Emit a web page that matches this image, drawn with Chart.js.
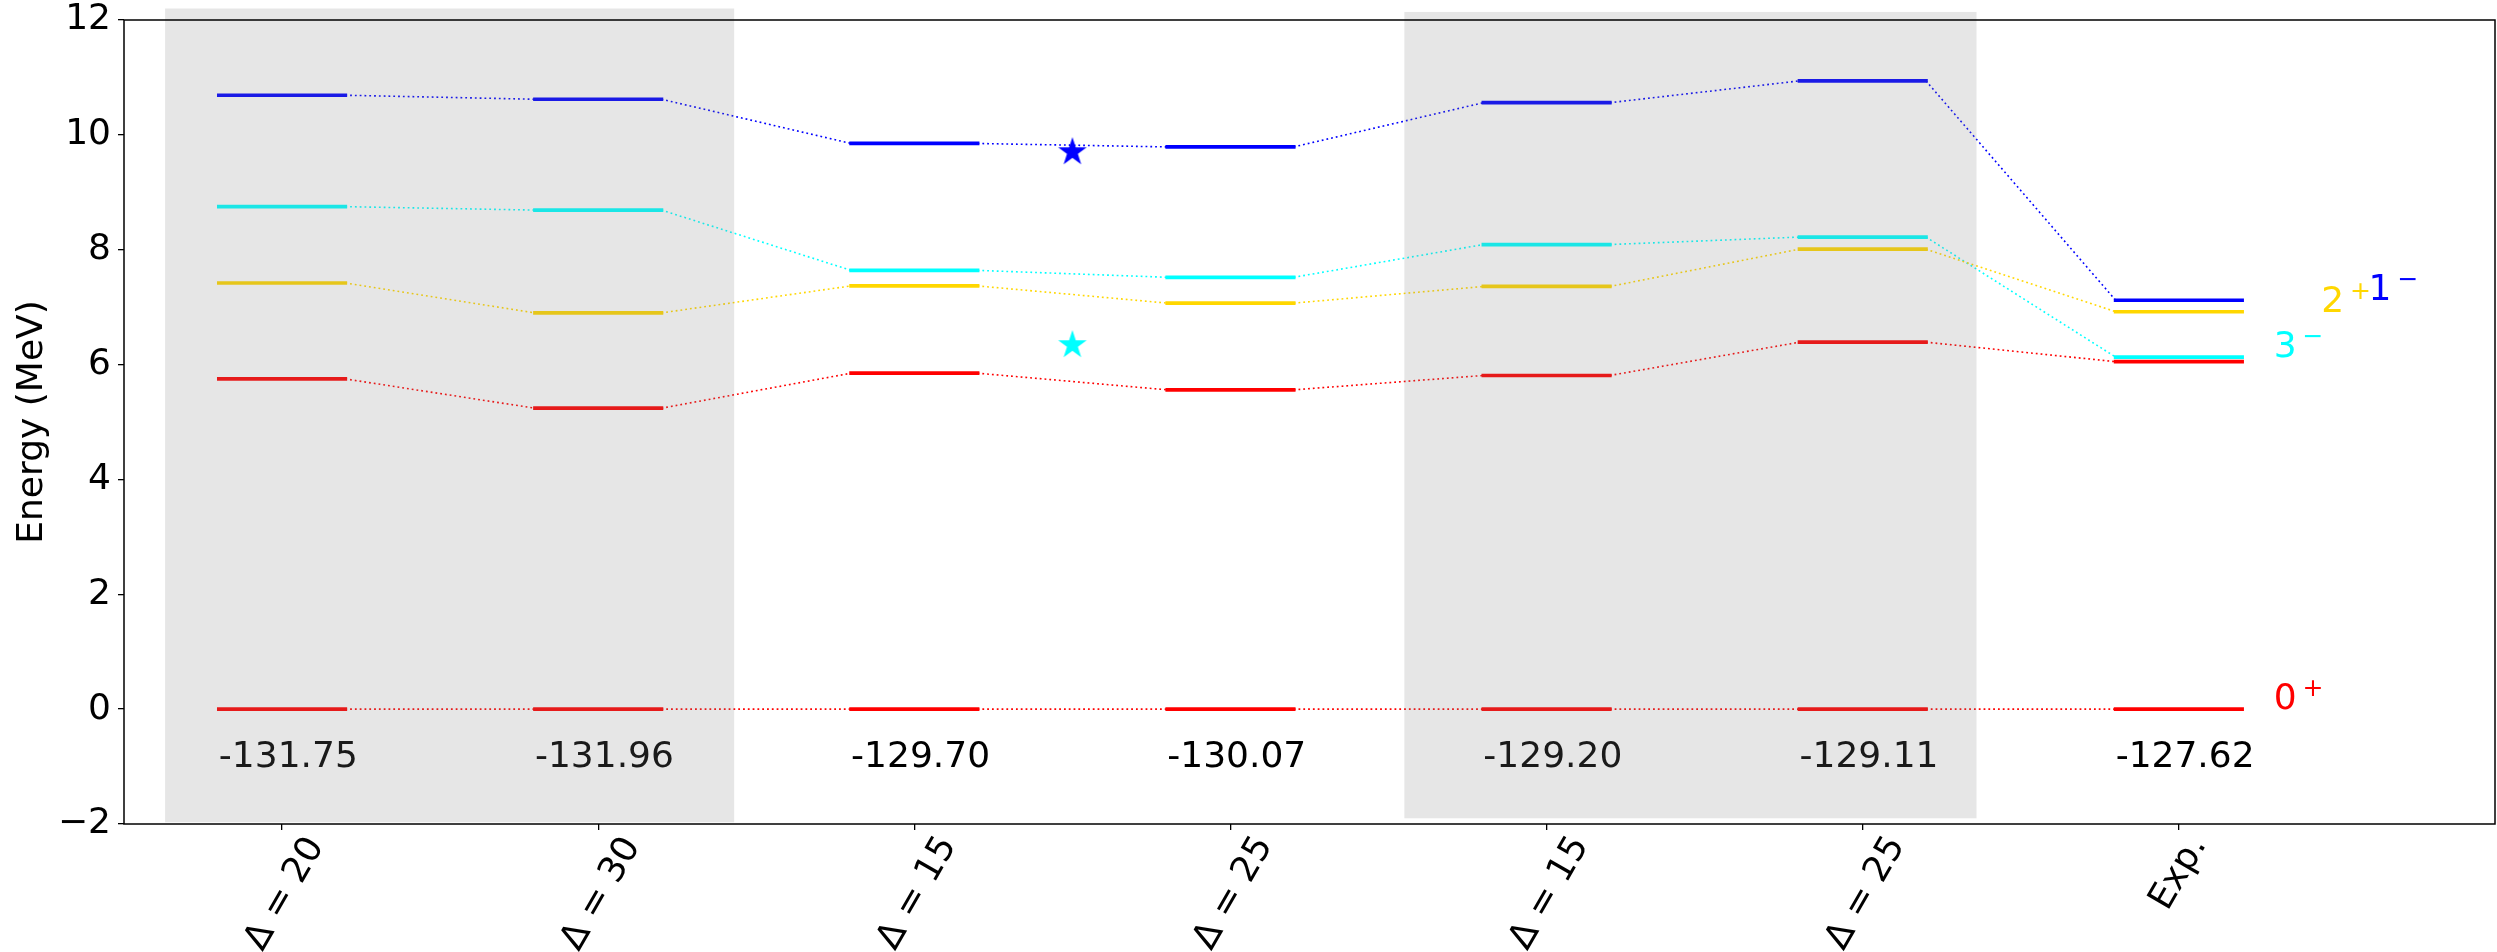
<!DOCTYPE html>
<html lang="en">

<head>
    <meta charset="UTF-8">
    <title>Energy levels</title>
    <script src="https://cdn.jsdelivr.net/npm/chart.js"></script>
    <style>
        body {
            margin: 0;
            padding: 0;
            background: #ffffff;
        }

        #chart {
            display: block;
        }
    </style>
</head>

<body>
    <canvas id="chart" width="2497" height="952"></canvas>

    <script>
        // Calculations (by Delta) and the experimental column
        var configs = ['\u0394 = 20', '\u0394 = 30', '\u0394 = 15', '\u0394 = 25', '\u0394 = 15', '\u0394 = 25', 'Exp.'];
        // Ground state energies printed under each column (MeV)
        var groundEnergy = ['-131.75', '-131.96', '-129.70', '-130.07', '-129.20', '-129.11', '-127.62'];

        // Excitation energies (MeV) per column
        var level0plus = [0, 0, 0, 0, 0, 0, 0];
        var level0plus2 = [5.75, 5.24, 5.85, 5.56, 5.81, 6.39, 6.05];
        var level2plus = [7.42, 6.90, 7.37, 7.07, 7.36, 8.01, 6.92];
        var level3minus = [8.75, 8.69, 7.64, 7.52, 8.09, 8.22, 6.13];
        var level1minus = [10.69, 10.62, 9.85, 9.79, 10.56, 10.94, 7.12];

        // Extra star markers between the two middle columns
        var starX = [2.5, 2.5];
        var starY = [9.70, 6.34];

        // Spin-parity labels next to the Exp. column
        var spinText = ['0', '3', '2', '1'];
        var spinSup = ['+', '\u2212', '+', '\u2212'];
        var spinX = [6.3, 6.3, 6.45, 6.6];
        var spinY = [0, 6.13, 6.92, 7.12];

        // Shaded groups of columns (data units)
        var bandX0 = [-0.37, 3.55];
        var bandX1 = [1.43, 5.36];
        var bandY0 = [-1.97, -1.9];
        var bandY1 = [12.2, 12.14];

        var RED = '#ff0000', GOLD = '#ffd700', CYAN = '#00ffff', BLUE = '#0000ff';
        var spinColors = [RED, CYAN, GOLD, BLUE];
        var halfWidth = 0.2;
        var FONT = '"DejaVu Sans"';

        Chart.defaults.font.family = 'DejaVu Sans';

        // each level becomes a flat bar per column joined by dotted lines
        function levelPoints(values) {
            var pts = [];
            values.forEach(function (v, i) {
                pts.push({ x: i - halfWidth, y: v });
                pts.push({ x: i + halfWidth, y: v });
            });
            return pts;
        }

        function levelDataset(values, color) {
            return {
                data: levelPoints(values),
                borderColor: color,
                backgroundColor: color,
                pointRadius: 0,
                tension: 0,
                order: 1,
                segment: {
                    borderWidth: function (ctx) { return ctx.p0DataIndex % 2 ? 1.6 : 3.7; },
                    borderDash: function (ctx) { return ctx.p0DataIndex % 2 ? [1.8, 3] : []; },
                    borderCapStyle: function (ctx) { return ctx.p0DataIndex % 2 ? 'butt' : 'square'; }
                }
            };
        }

        // filled five-point star, like a '*' marker
        function starImage(color, r) {
            var c = document.createElement('canvas');
            var s = Math.ceil(r * 2) + 2;
            c.width = s;
            c.height = s;
            var g = c.getContext('2d');
            g.translate(s / 2, s / 2);
            g.beginPath();
            for (var k = 0; k < 10; k++) {
                var rad = k % 2 ? r * 0.382 : r;
                var a = -Math.PI / 2 + k * Math.PI / 5;
                g.lineTo(rad * Math.cos(a), rad * Math.sin(a));
            }
            g.closePath();
            g.fillStyle = color;
            g.fill();
            return c;
        }

        // fixed box sizes, no extra padding from labels
        function fixBox(w, h) {
            return function (scale) {
                if (w) scale.width = w;
                if (h) scale.height = h;
                scale.paddingLeft = scale.paddingRight = scale.paddingTop = scale.paddingBottom = 0;
            };
        }

        var decorations = {
            id: 'decorations',
            afterDatasetsDraw: function (chart) {
                var ctx = chart.ctx;
                var xs = chart.scales.x, ys = chart.scales.y;
                ctx.save();

                // ground state energies
                ctx.font = '36px ' + FONT;
                ctx.fillStyle = '#000';
                ctx.textAlign = 'left';
                ctx.textBaseline = 'alphabetic';
                groundEnergy.forEach(function (t, i) {
                    ctx.fillText(t, xs.getPixelForValue(i - halfWidth), ys.getPixelForValue(-1));
                });

                // J^pi labels
                spinText.forEach(function (t, i) {
                    var px = xs.getPixelForValue(spinX[i]);
                    var py = ys.getPixelForValue(spinY[i]);
                    ctx.fillStyle = spinColors[i];
                    ctx.font = '36px ' + FONT;
                    ctx.fillText(t, px, py);
                    var w = ctx.measureText(t).width;
                    ctx.font = '25px ' + FONT;
                    ctx.fillText(spinSup[i], px + w + 6, py - 13);
                });

                // grey shading goes over the levels
                ctx.fillStyle = 'rgba(128, 128, 128, 0.2)';
                bandX0.forEach(function (x0, i) {
                    var l = xs.getPixelForValue(x0), r = xs.getPixelForValue(bandX1[i]);
                    var t = ys.getPixelForValue(bandY1[i]), b = ys.getPixelForValue(bandY0[i]);
                    ctx.fillRect(l, t, r - l, b - t);
                });
                ctx.restore();
            },
            afterDraw: function (chart) {
                var ctx = chart.ctx;
                var area = chart.chartArea;
                var xs = chart.scales.x;
                ctx.save();

                // frame
                ctx.strokeStyle = '#000';
                ctx.lineWidth = 1.5;
                ctx.strokeRect(area.left, area.top, area.right - area.left, area.bottom - area.top);

                // rotated column names, centred under each tick
                var ang = Math.PI / 3;
                ctx.font = '36px ' + FONT;
                ctx.fillStyle = '#000';
                ctx.textAlign = 'left';
                ctx.textBaseline = 'alphabetic';
                configs.forEach(function (lab, i) {
                    var m = ctx.measureText(lab);
                    var w = m.actualBoundingBoxLeft + m.actualBoundingBoxRight;
                    var h = m.actualBoundingBoxAscent + m.actualBoundingBoxDescent;
                    var H = w * Math.sin(ang) + h * Math.cos(ang);
                    ctx.save();
                    ctx.translate(xs.getPixelForValue(i), area.bottom + 10 + H / 2);
                    ctx.rotate(-ang);
                    ctx.fillText(lab, -(m.actualBoundingBoxRight - m.actualBoundingBoxLeft) / 2,
                        (m.actualBoundingBoxAscent - m.actualBoundingBoxDescent) / 2);
                    ctx.restore();
                });
                ctx.restore();
            }
        };

        var ctx = document.getElementById('chart').getContext('2d');
        var chart = new Chart(ctx, {
            type: 'line',
            data: {
                datasets: [
                    levelDataset(level0plus, RED),
                    levelDataset(level0plus2, RED),
                    levelDataset(level2plus, GOLD),
                    levelDataset(level3minus, CYAN),
                    levelDataset(level1minus, BLUE),
                    {
                        data: starX.map(function (x, i) { return { x: x, y: starY[i] }; }),
                        showLine: false,
                        pointRadius: 15,
                        pointStyle: [starImage(BLUE, 15), starImage(CYAN, 15)],
                        order: 0
                    }
                ]
            },
            plugins: [decorations],
            options: {
                responsive: false,
                animation: false,
                layout: { autoPadding: false, padding: { top: 20, right: 2, left: 0, bottom: 0 } },
                plugins: {
                    legend: { display: false },
                    tooltip: { enabled: false }
                },
                scales: {
                    x: {
                        type: 'linear',
                        min: -0.5,
                        max: 7,
                        border: { display: false },
                        grid: { drawOnChartArea: false, drawTicks: true, tickLength: 6, color: '#000', lineWidth: 1.3 },
                        ticks: { display: false },
                        afterBuildTicks: function (axis) {
                            axis.ticks = configs.map(function (_, i) { return { value: i }; });
                        },
                        afterFit: fixBox(0, 128)
                    },
                    y: {
                        min: -2,
                        max: 12,
                        border: { display: false },
                        grid: { drawOnChartArea: false, drawTicks: true, tickLength: 6, color: '#000', lineWidth: 1.3 },
                        ticks: {
                            stepSize: 2,
                            color: '#000',
                            padding: 7,
                            font: { size: 36 },
                            callback: function (v) { return String(v).replace('-', '\u2212'); }
                        },
                        title: {
                            display: true,
                            text: 'Energy (MeV)',
                            color: '#000',
                            font: { size: 36 },
                            padding: { top: 11, bottom: 0 }
                        },
                        afterFit: fixBox(124, 0)
                    }
                }
            }
        });
    </script>
</body>

</html>
